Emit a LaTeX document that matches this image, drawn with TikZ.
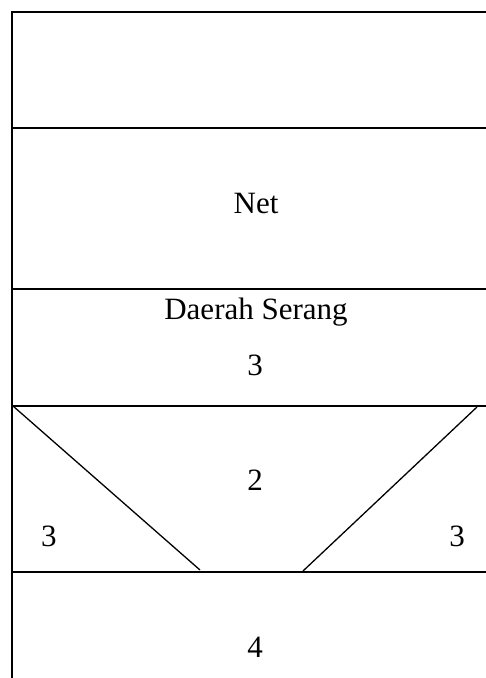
\documentclass[tikz,border=0pt]{standalone}
\usepackage{fontspec}
\setmainfont{Liberation Serif}
\begin{document}
\begin{tikzpicture}[x=1pt,y=-1pt,
  frame/.style={line width=2pt},
  divider/.style={line width=1.8pt},
  slope/.style={line width=1.3pt},
  label/.style={anchor=base,inner sep=0pt,font=\fontsize{31}{36}\selectfont}]
  \useasboundingbox (0,0) rectangle (486,678);
  % outer frame (left and top edges)
  \coordinate (tl) at (12,12);
  \coordinate (tr) at (486,12);
  \coordinate (bl) at (12,678);
  \draw[frame] (bl) -- (tl) -- (tr);
  % horizontal dividers
  \foreach \n/\y in {a/128,b/289,c/406,d/572}{
    \coordinate (\n L) at (12,\y);
    \coordinate (\n R) at (486,\y);
    \draw[divider] (\n L) -- (\n R);
  }
  % sloping sides of the middle zone
  \coordinate (sl) at (13,406);
  \coordinate (el) at (200,570);
  \coordinate (sr) at (477,407);
  \coordinate (er) at (303,571);
  \draw[slope] (sl) -- (el);
  \draw[slope] (sr) -- (er);
  % labels
  \node[label] (net) at (256,213) {Net};
  \node[label] (serang) at (256,319) {Daerah Serang};
  \node[label] (z3) at (255,375) {3};
  \node[label] (z2) at (255,490) {2};
  \node[label] (z3l) at (49,546) {3};
  \node[label] (z3r) at (457,546) {3};
  \node[label] (z4) at (255,657) {4};
\end{tikzpicture}
\end{document}
